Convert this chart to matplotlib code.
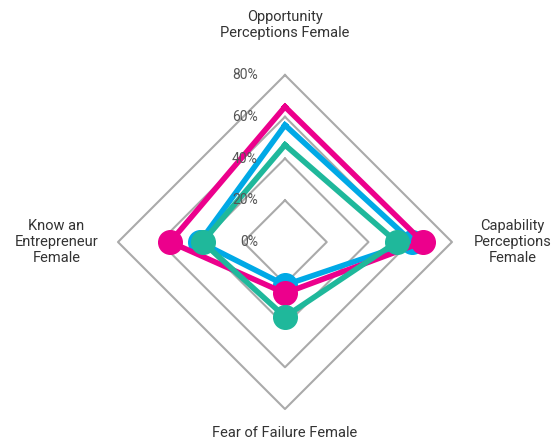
import numpy as np
import matplotlib.pyplot as plt
import matplotlib.transforms as mtransforms

plt.rcParams['font.family'] = ['Liberation Sans Narrow', 'Roboto', 'DejaVu Sans']

categories = ["Opportunity\nPerceptions Female", "Capability\nPerceptions\nFemale",
              "Fear of Failure Female", "Know an\nEntrepreneur\nFemale"]
pink_vals = [64.8, 66.0, 24.5, 55.0]
blue_vals = [56.0, 61.0, 20.6, 40.8]
teal_vals = [46.5, 53.5, 35.8, 39.5]
tick_vals = [0, 20, 40, 60, 80]
tick_labels = ["0%", "20%", "40%", "60%", "80%"]

pink = "#EC008C"
blue = "#00A9E6"
teal = "#1FB89B"
grid = "#AAAAAA"

fig = plt.figure(figsize=(5.6, 4.48), dpi=100)
ax = fig.add_axes([0.2107, 0.087, 0.5964, 0.7455], projection='polar')
ax.set_theta_offset(np.pi / 2)
ax.set_theta_direction(-1)
ax.set_ylim(0, 80)
ax.grid(False)
ax.spines['polar'].set_visible(False)
ax.set_xticks([])
ax.set_yticks([])
ax.patch.set_alpha(0)

angles = np.linspace(0, 2 * np.pi, len(categories), endpoint=False)
closed = np.append(angles, angles[0])

# diamond grid rings
for v in tick_vals[1:]:
    ax.plot(closed, [v] * len(closed), color=grid, lw=1.5, zorder=1, clip_on=False)

# series: blue under pink under teal (no marker on the top point)
for vals, col, z in [(blue_vals, blue, 3), (pink_vals, pink, 4), (teal_vals, teal, 5)]:
    ax.plot(closed, vals + vals[:1], color=col, lw=4, zorder=z, clip_on=False)
    ax.plot(angles[1:], vals[1:], 'o', color=col, ms=17, zorder=z, clip_on=False)

# tick labels left of vertical axis
off = mtransforms.ScaledTranslation(-0.27, 0, fig.dpi_scale_trans)
for v, lab in zip(tick_vals, tick_labels):
    ax.text(0, v, lab, transform=ax.transData + off, ha='right', va='center',
            fontsize=10, color="#555555", zorder=6)

# category labels
label_r = [104, 109, 91.5, 109.5]
for a, lab, r in zip(angles, categories, label_r):
    ax.text(a, r, lab, ha='center', va='center', fontsize=10.5, color="#333333",
            linespacing=1.15)

fig.savefig("out.png", dpi=100)
